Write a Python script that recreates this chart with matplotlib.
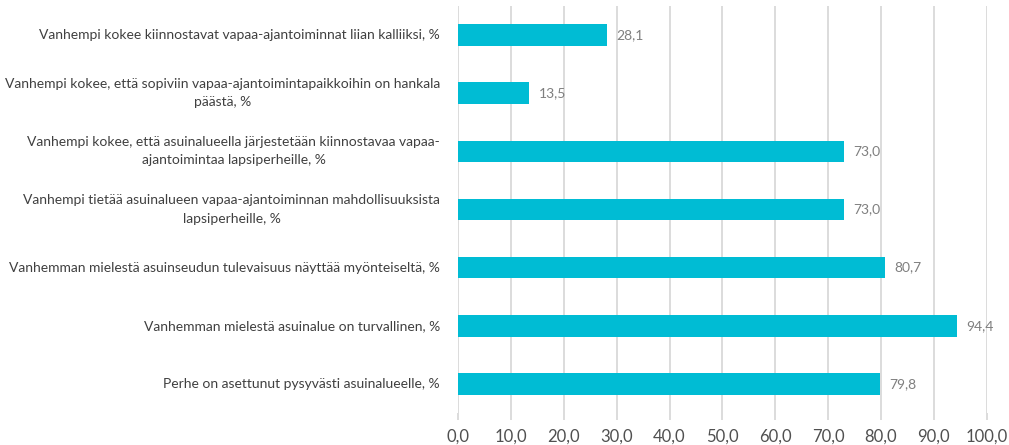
import matplotlib
matplotlib.use('Agg')
import matplotlib.pyplot as plt

# data, top to bottom as in the picture
categories = [
    'Vanhempi kokee kiinnostavat vapaa-ajantoiminnat liian kalliiksi, %',
    'Vanhempi kokee, että sopiviin vapaa-ajantoimintapaikkoihin on hankala\npäästä, %',
    'Vanhempi kokee, että asuinalueella järjestetään kiinnostavaa vapaa-\najantoimintaa lapsiperheille, %',
    'Vanhempi tietää asuinalueen vapaa-ajantoiminnan mahdollisuuksista\nlapsiperheille, %',
    'Vanhemman mielestä asuinseudun tulevaisuus näyttää myönteiseltä, %',
    'Vanhemman mielestä asuinalue on turvallinen, %',
    'Perhe on asettunut pysyvästi asuinalueelle, %',
]
values = [28.1, 13.5, 73.0, 73.0, 80.7, 94.4, 79.8]
xticks = [0, 10, 20, 30, 40, 50, 60, 70, 80, 90, 100]

plt.rcParams['font.family'] = 'Lato'

fig = plt.figure(figsize=(10.09, 4.45), dpi=100)
ax = fig.add_axes([0.454, 0.072, 0.524, 0.9145])

ypos = list(range(len(categories)))
ax.barh(ypos, values, height=0.37, color='#00BCD4', zorder=3)
for y, v in zip(ypos, values):
    ax.text(v + 1.8, y, ('%.1f' % v).replace('.', ','), va='center', ha='left',
            fontsize=10, color='#7F7F7F')

ax.set_ylim(len(categories) - 0.5, -0.5)
ax.set_xlim(0, 100)
ax.set_yticks(ypos)
ax.set_yticklabels([])
# category labels: each line centred on the block, block right-aligned to the axis
xoff = -13 / 72.0
for y, c in zip(ypos, categories):
    lines = c.split('\n')
    if len(lines) == 1:
        ax.annotate(c, xy=(0, y), xycoords=('axes fraction', 'data'),
                    xytext=(-13, 0), textcoords='offset points',
                    ha='right', va='center', fontsize=10, color='#404040')
        continue
    t = ax.annotate(lines[0], xy=(0, y), xycoords=('axes fraction', 'data'),
                    xytext=(-13, 6.5), textcoords='offset points',
                    ha='right', va='center', fontsize=10, color='#404040')
    ax.annotate(lines[1], xy=(0.5, 0.5), xycoords=t,
                xytext=(0, -13), textcoords='offset points',
                ha='center', va='center', fontsize=10, color='#404040')
ax.set_xticks(xticks)
ax.set_xticklabels([('%.1f' % t).replace('.', ',') for t in xticks], fontsize=12, color='#505050')

ax.grid(axis='x', color='#D9D9D9', linewidth=1.3, zorder=0)
for s in ax.spines.values():
    s.set_visible(False)
ax.tick_params(axis='y', length=0)
ax.tick_params(axis='x', length=5, width=1.3, color='#D9D9D9', pad=6)

fig.savefig('out.png', dpi=100)
